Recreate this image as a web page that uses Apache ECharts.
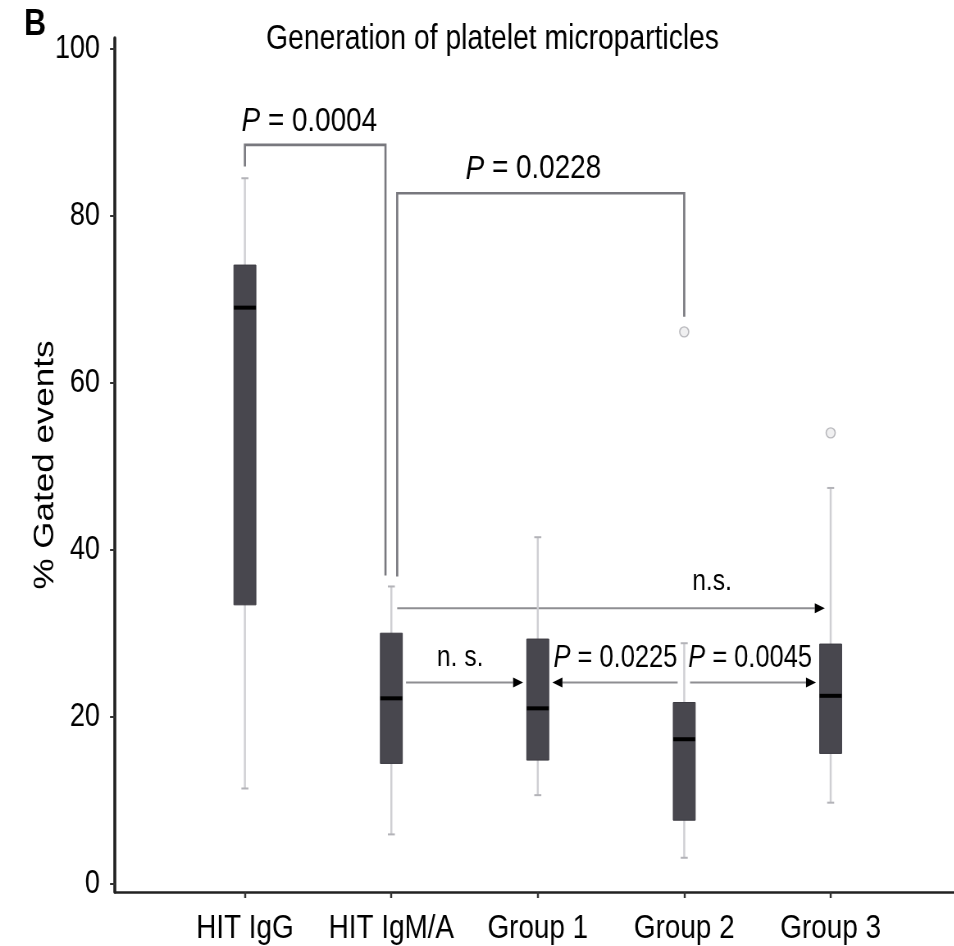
<!DOCTYPE html>
<html>
<head>
<meta charset="utf-8">
<script src="https://cdn.jsdelivr.net/npm/echarts@6/dist/echarts.min.js"></script>
<style>
  html, body { margin: 0; padding: 0; background: #fff; overflow: hidden; }
  /* the original figure is horizontally squeezed (narrow Helvetica look),
     so the chart is drawn wider and squeezed back with a css scaleX */
  #main { width: 1163px; height: 946px; transform: scaleX(0.82); transform-origin: 0 0; }
</style>
</head>
<body>
<div id="main"></div>
<script>
var SX = 0.82; // horizontal squeeze, px below are in un-squeezed chart space

// groups on the x axis
var categories = ['HIT IgG', 'HIT IgM/A', 'Group 1', 'Group 2', 'Group 3'];
// box statistics, % gated events
var whiskerLow  = [11.4, 5.9, 10.6, 3.1, 9.7];
var q1          = [33.4, 14.4, 14.8, 7.6, 15.6];
var median      = [69.0, 22.2, 21.0, 17.3, 22.5];
var q3          = [74.1, 30.0, 29.3, 21.7, 28.7];
var whiskerHigh = [84.5, 35.6, 41.5, 28.8, 47.4];
// outliers
var outlierGroup = [3, 4];
var outlierValue = [66.1, 54.0];
var yTicks = [0, 20, 40, 60, 80, 100];

// comparison brackets (x in group index, y in %)
var bracketX1 = [0, 1.04];
var bracketX2 = [0.96, 3.0];
var bracketTop = [88.5, 82.7];
var bracketLeftEnd = [85.9, 36.8];
var bracketRightEnd = [36.9, 67.9];

// comparison arrows
var arrowFrom = [1.04, 1.1, 2.955, 3.04];
var arrowTo   = [3.96, 1.9, 2.1, 3.9];
var arrowY    = [33.0, 24.1, 24.1, 24.1];

// comparison labels
var noteText = ['{i|P} = 0.0004', '{i|P} = 0.0228', 'n.s.', 'n. s.', '{i|P} = 0.0225', '{i|P} = 0.0045'];
var noteX = [0.44, 1.97, 3.19, 1.47, 2.53, 3.45];
var noteY = [91.3, 85.6, 36.2, 27.1, 27.0, 27.0];

var FONT = "'Liberation Sans', Arial, Helvetica, sans-serif";
var noteFontSize = [34, 34, 30, 30, 31, 31];

var boxData = categories.map(function (c, i) {
    return [i, whiskerLow[i], q1[i], median[i], q3[i], whiskerHigh[i]];
});
var bracketData = bracketX1.map(function (x, i) {
    return [x, bracketX2[i], bracketTop[i], bracketLeftEnd[i], bracketRightEnd[i]];
});
var arrowData = arrowFrom.map(function (x, i) {
    return [x, arrowTo[i], arrowY[i]];
});
var noteData = noteText.map(function (t, i) {
    return [noteX[i], noteY[i], t];
});
var outlierData = outlierGroup.map(function (g, i) {
    return [g, outlierValue[i]];
});

function renderBox(params, api) {
    var x = api.value(0);
    var pLow = api.coord([x, api.value(1)]);
    var pQ1 = api.coord([x, api.value(2)]);
    var pMed = api.coord([x, api.value(3)]);
    var pQ3 = api.coord([x, api.value(4)]);
    var pHigh = api.coord([x, api.value(5)]);
    var hw = 11 / SX, cap = 3.5 / SX;
    var cx = pLow[0];
    return {
        type: 'group',
        children: [
            { type: 'line', shape: { x1: cx, y1: pLow[1], x2: cx, y2: pHigh[1] }, style: { stroke: '#cfcfd3', lineWidth: 2 / SX } },
            { type: 'line', shape: { x1: cx - cap, y1: pLow[1], x2: cx + cap, y2: pLow[1] }, style: { stroke: '#b3b3b8', lineWidth: 2 } },
            { type: 'line', shape: { x1: cx - cap, y1: pHigh[1], x2: cx + cap, y2: pHigh[1] }, style: { stroke: '#b3b3b8', lineWidth: 2 } },
            { type: 'rect', shape: { x: cx - hw, y: pQ3[1], width: hw * 2, height: pQ1[1] - pQ3[1] },
              style: { fill: '#48474e', stroke: '#3c3b42', lineWidth: 1 } },
            { type: 'line', shape: { x1: cx - hw, y1: pMed[1], x2: cx + hw, y2: pMed[1] }, style: { stroke: '#000', lineWidth: 4 } }
        ]
    };
}

function renderBracket(params, api) {
    var a = api.coord([api.value(0), api.value(3)]);
    var b = api.coord([api.value(0), api.value(2)]);
    var c = api.coord([api.value(1), api.value(2)]);
    var d = api.coord([api.value(1), api.value(4)]);
    return {
        type: 'polyline',
        shape: { points: [a, b, c, d] },
        style: { stroke: '#78787e', lineWidth: 2.6, fill: null }
    };
}

function renderArrow(params, api) {
    var p0 = api.coord([api.value(0), api.value(2)]);
    var p1 = api.coord([api.value(1), api.value(2)]);
    var dir = p1[0] > p0[0] ? 1 : -1;
    var len = 10 / SX, half = 5;
    return {
        type: 'group',
        children: [
            { type: 'line', shape: { x1: p0[0], y1: p0[1], x2: p1[0] - dir * len, y2: p1[1] },
              style: { stroke: '#8e8e92', lineWidth: 2 } },
            { type: 'polygon', shape: { points: [[p1[0], p1[1]], [p1[0] - dir * len, p1[1] - half], [p1[0] - dir * len, p1[1] + half]] },
              style: { fill: '#000' } }
        ]
    };
}

function renderNote(params, api) {
    var p = api.coord([api.value(0), api.value(1)]);
    var fs = noteFontSize[params.dataIndex];
    return {
        type: 'text',
        x: p[0],
        y: p[1],
        style: {
            text: noteText[params.dataIndex],
            fill: '#000',
            fontFamily: FONT,
            fontSize: fs,
            align: 'center',
            verticalAlign: 'middle',
            rich: { i: { fontStyle: 'italic', fontSize: fs, fontFamily: FONT } }
        }
    };
}

var chart = echarts.init(document.getElementById('main'));
chart.setOption({
    animation: false,
    backgroundColor: '#fff',
    textStyle: { fontFamily: FONT },
    title: [
        { text: 'B', left: 20 / SX, top: 1, textStyle: { fontSize: 37, fontWeight: 'bold', color: '#000', fontFamily: FONT } },
        { text: 'Generation of platelet microparticles', left: 262 / SX, top: 17,
          textStyle: { fontSize: 34.5, fontWeight: 'normal', color: '#000', fontFamily: FONT } }
    ],
    grid: { left: 115 / SX, right: 0, top: 38, bottom: 54, containLabel: false, outerBoundsMode: 'none' },
    xAxis: {
        type: 'value',
        min: -0.887,
        max: 4.84,
        splitLine: { show: false },
        axisLine: { show: true, onZero: false, lineStyle: { color: '#222', width: 2.6 } },
        axisTick: { show: true, length: 6, customValues: [0, 1, 2, 3, 4], lineStyle: { color: '#333', width: 2 / SX } },
        axisLabel: {
            customValues: [0, 1, 2, 3, 4],
            margin: 20,
            fontSize: 34,
            color: '#000',
            fontFamily: FONT,
            formatter: function (v) { return categories[Math.round(v)]; }
        }
    },
    yAxis: {
        type: 'value',
        min: -1.0,
        max: 101.3,
        name: '% Gated events',
        nameLocation: 'middle',
        nameMoveOverlap: false,
        nameGap: 55 / SX,
        nameTextStyle: { fontSize: 35, color: '#000', fontFamily: FONT },
        splitLine: { show: false },
        axisLine: { show: true, onZero: false, lineStyle: { color: '#222', width: 3 / SX } },
        axisTick: { show: true, length: 5 / SX, customValues: yTicks, lineStyle: { color: '#333', width: 2 } },
        axisLabel: { customValues: yTicks, margin: 15 / SX, fontSize: 33, color: '#000', fontFamily: FONT }
    },
    series: [
        { type: 'custom', name: 'box', renderItem: renderBox, data: boxData,
          encode: { x: 0, y: [1, 2, 3, 4, 5] }, z: 3 },
        { type: 'scatter', name: 'outlier', data: outlierData, symbol: 'circle', symbolSize: [11, 10],
          itemStyle: { color: '#ececee', borderColor: '#a9a9ae', borderWidth: 1.5 }, z: 4 },
        { type: 'custom', name: 'bracket', renderItem: renderBracket, data: bracketData,
          encode: { x: [0, 1], y: [2, 3, 4] }, z: 2 },
        { type: 'custom', name: 'arrow', renderItem: renderArrow, data: arrowData,
          encode: { x: [0, 1], y: 2 }, z: 2 },
        { type: 'custom', name: 'note', renderItem: renderNote, data: noteData,
          encode: { x: 0, y: 1 }, z: 5 }
    ]
});
</script>
</body>
</html>
